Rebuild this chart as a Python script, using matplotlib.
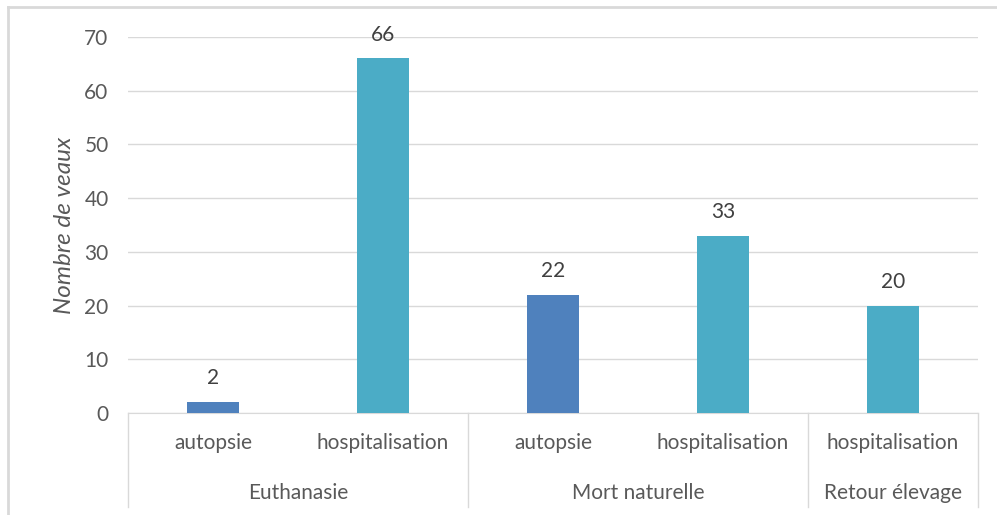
import matplotlib.pyplot as plt
from matplotlib.lines import Line2D

# Data
groups = ['Euthanasie', 'Mort naturelle', 'Retour élevage']
group_sizes = [2, 2, 1]
labels = ['autopsie', 'hospitalisation', 'autopsie', 'hospitalisation', 'hospitalisation']
values = [2, 66, 22, 33, 20]
colors = ['#4F81BD', '#4BACC6', '#4F81BD', '#4BACC6', '#4BACC6']

plt.rcParams['font.family'] = ['Lato', 'DejaVu Sans']
fs = 15

fig = plt.figure(figsize=(9.97, 5.15), dpi=100)
ax = fig.add_axes([128 / 997, 1 - 413 / 515, 850 / 997, 376 / 515])

x = list(range(len(values)))
bars = ax.bar(x, values, width=0.31, color=colors, zorder=3)

for xi, v in zip(x, values):
    ax.annotate(str(v), (xi, v), xytext=(0, 10), textcoords='offset points',
                ha='center', va='bottom', fontsize=fs, color='#404040')

ax.set_xlim(-0.5, len(values) - 0.5)
ax.set_ylim(0, 70)
ax.set_yticks(range(0, 71, 10))
ax.yaxis.grid(True, color='#D9D9D9', linewidth=1, zorder=0)
ax.tick_params(axis='y', length=0, labelsize=fs, labelcolor='#595959', pad=14)
ax.set_xticks([])
for s in ['top', 'right', 'left']:
    ax.spines[s].set_visible(False)
ax.spines['bottom'].set_color('#D9D9D9')

ax.set_ylabel('Nombre de veaux', fontsize=17.5, color='#595959', style='italic', labelpad=7)

# multi-level category axis
for xi, lab in zip(x, labels):
    ax.text(xi, -0.08, lab, transform=ax.get_xaxis_transform(), ha='center', va='center',
            fontsize=fs, color='#595959')
start = 0
bounds = [-0.5]
for g, n in zip(groups, group_sizes):
    mid = start + (n - 1) / 2
    ax.text(mid, -0.213, g, transform=ax.get_xaxis_transform(), ha='center', va='center',
            fontsize=fs, color='#595959')
    start += n
    bounds.append(start - 0.5)
for b in bounds:
    ax.plot([b, b], [0, -0.25], transform=ax.get_xaxis_transform(), color='#D9D9D9',
            linewidth=1, clip_on=False)

# outer chart frame
fig.add_artist(Line2D([8 / 997, 1], [1 - 7 / 515, 1 - 7 / 515], color='#D9D9D9', linewidth=2))
fig.add_artist(Line2D([8 / 997, 8 / 997], [0, 1 - 7 / 515], color='#D9D9D9', linewidth=2))

plt.savefig('out.png', dpi=100)
